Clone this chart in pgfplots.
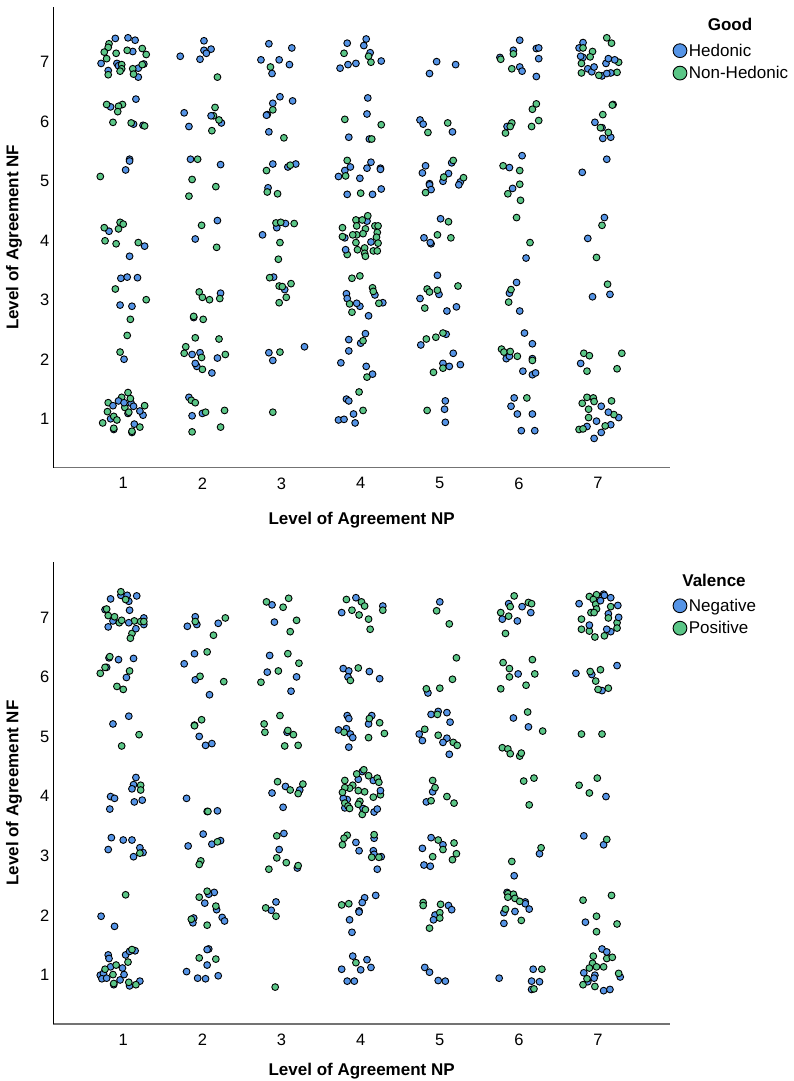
\documentclass[border=0pt]{standalone}
\usepackage{fontspec}
\setmainfont{Liberation Sans}
\usepackage{pgfplots}
\pgfplotsset{compat=1.18}

\definecolor{hblue}{HTML}{5594E6}
\definecolor{hgreen}{HTML}{5BC687}

\newcommand{\lab}{\fontsize{16.5}{19}\selectfont}
\newcommand{\leg}{\fontsize{17}{19}\selectfont}
\newcommand{\labb}{\fontsize{17}{19}\selectfont\bfseries}

\pgfplotsset{
  panel/.style={
    scale only axis, width=616.7pt,
    anchor=south west,
    xmin=0.116, xmax=7.909,
    xtick={1,...,7}, ytick={1,...,7},
    major tick length=0pt,
    axis x line*=bottom, axis y line*=left,
    x axis line style={-, line width=1.3pt, color=black!55},
    y axis line style={-, line width=0.9pt, color=black},
    /pgf/number format/assume math mode=true,
    tick label style={font=\lab},
    xticklabel style={yshift=-6.3pt},
    yticklabel style={xshift=-0.5pt, yshift=-0.8pt},
    every axis y label/.style={at={(axis description cs:0,0.5)},rotate=90,anchor=center,yshift=39.3pt,font=\labb},
    ylabel={Level of Agreement NF},
    xlabel={Level of Agreement NP},
    legend style={draw=none, fill=none, at={(axis description cs:1.005,0.9245)}, anchor=north west,
      font=\leg, inner sep=0pt, outer sep=0pt, row sep=4.6pt, cells={anchor=west},
      /tikz/every even column/.style={column sep=2pt}},
    legend cell align=left,
    legend image code/.code={\draw[##1] plot coordinates {(0.12cm,0cm)};},
  },
  blu/.style={only marks, mark=*, mark size=3.4pt, line width=0.9pt, draw=black, fill=hblue, mark options={draw=black, fill=hblue}, forget plot},
  grn/.style={only marks, mark=*, mark size=3.4pt, line width=0.9pt, draw=black, fill=hgreen, mark options={draw=black, fill=hgreen}, forget plot},
  bigblu/.style={only marks, mark=*, mark size=6.9pt, line width=0.9pt, mark options={draw=black, fill=hblue}},
  biggrn/.style={only marks, mark=*, mark size=6.9pt, line width=0.9pt, mark options={draw=black, fill=hgreen}},
}

\begin{document}
\begin{tikzpicture}
\useasboundingbox (0,0) rectangle (793pt,1081pt);

% Good: Hedonic / Non-Hedonic
\begin{axis}[panel, at={(53.3pt,613.3pt)}, height=460.7pt,
  ymin=0.168, ymax=7.908,
  every axis x label/.style={at={(axis description cs:0.5,0)},anchor=center,yshift=-52.5pt,font=\labb}]
\addplot[blu] coordinates {
 (0.90,7.38) (1.06,7.39) (1.15,7.35) (1.12,7.16) (0.72,6.96) (0.92,6.96) (0.94,6.92) (1.19,6.88) (0.81,6.84) (1.19,6.73) (1.26,6.95)
 (2.02,7.34) (2.11,7.20) (2.02,7.18) (2.05,7.13) (1.97,7.03) (1.72,7.08)
 (2.84,7.29) (3.13,7.22) (2.74,7.02) (2.97,7.02) (3.10,6.94) (2.88,6.79)
 (3.83,7.30) (4.07,7.37) (4.04,7.26) (3.94,6.96) (3.84,6.94) (3.74,6.88) (4.12,7.14) (4.26,7.00)
 (4.96,6.99) (5.20,6.94) (4.87,6.79)
 (6.01,7.35) (5.93,7.18) (6.22,7.21) (6.25,7.22) (6.25,7.04) (5.76,7.06) (6.01,6.90) (6.04,6.83) (6.22,6.74)
 (6.81,7.31) (6.76,7.22) (6.81,7.06) (6.87,6.87) (7.05,6.75)
 (1.16,6.36) (0.84,6.23) (1.25,5.92) (1.13,5.94)
 (1.77,6.13) (1.83,5.90) (2.24,5.96)
 (2.98,6.40) (3.14,6.33) (2.89,6.29) (2.82,6.10) (2.81,6.09) (2.84,5.81)
 (3.85,5.72) (4.09,6.38) (4.08,6.11) (4.11,5.69)
 (4.75,6.01) (4.79,5.94) (5.16,5.81)
 (5.85,5.90)
 (7.19,6.27) (7.05,5.88) (6.96,5.97) (7.06,5.70) (7.16,5.72)
 (1.08,5.35) (1.08,5.32) (1.03,5.17)
 (1.85,5.35) (2.23,5.26)
 (2.89,5.27) (3.08,5.22) (3.18,5.27) (2.83,4.87)
 (3.87,5.22) (3.80,5.16) (3.72,5.06) (4.08,5.20) (3.99,5.03) (3.83,4.76) (4.13,5.30) (4.25,5.20) (4.25,5.18) (4.15,4.76) (4.26,4.85)
 (4.82,5.24) (4.78,5.12) (5.11,5.11) (5.04,4.98) (5.15,5.29) (4.87,4.94) (4.87,4.92) (4.89,4.84) (5.26,4.97) (5.24,4.92)
 (6.04,5.41) (5.88,5.21) (5.92,4.86)
 (7.11,5.35) (6.80,5.13)
 (0.82,4.14) (1.27,3.89) (1.08,3.72)
 (2.19,4.32) (1.91,4.01)
 (2.76,4.08) (2.94,4.20) (3.05,4.27)
 (3.80,4.03) (4.08,4.31)
 (5.01,4.35) (4.80,4.03) (4.89,3.93) (4.88,3.95)
 (6.09,3.69)
 (7.08,4.37) (6.87,4.02)
 (0.97,3.35) (1.05,3.37) (1.18,3.36) (0.96,2.90) (1.11,2.88)
 (2.23,3.10) (1.89,2.69)
 (2.90,3.37) (3.04,3.16)
 (3.82,3.09) (3.83,3.01) (3.99,2.88) (4.10,2.72) (4.18,3.07) (4.28,2.94)
 (4.97,3.40) (4.75,3.01) (4.99,3.08) (5.09,2.80) (5.21,2.87)
 (5.97,3.28) (5.88,3.10) (6.01,2.80)
 (6.93,3.04) (7.15,3.08)
 (1.01,1.99)
 (1.97,2.10) (2.19,2.01) (1.93,1.87) (2.12,1.76)
 (2.84,2.10) (2.89,1.97) (3.29,2.20)
 (4.06,2.42) (3.85,2.32) (3.85,2.13) (4.00,2.26) (3.75,1.93) (4.07,1.87) (4.15,1.74)
 (5.08,2.41) (4.76,2.23) (5.17,2.09) (5.04,1.92) (5.26,1.90)
 (6.07,2.43) (6.17,2.25) (5.84,2.00) (5.88,2.04) (6.17,2.00) (6.05,1.79) (6.17,1.73) (6.21,1.76)
 (6.78,1.92)
 (1.10,1.25) (1.25,1.05) (0.84,0.99) (1.14,0.90) (0.88,0.81) (1.11,0.76) (1.06,1.08) (1.21,1.12)
 (1.83,1.35) (1.87,1.04) (2.00,1.08)
 (3.82,1.32) (3.85,1.29) (3.72,0.97) (3.79,0.98) (3.91,1.07) (3.93,0.92)
 (5.07,1.29) (5.06,1.15) (5.07,0.93)
 (5.94,1.34) (5.90,1.20) (5.98,1.07) (6.17,1.07) (6.03,0.79) (6.20,0.79)
 (7.04,1.20) (7.26,1.01) (6.98,0.95) (6.86,0.86) (7.16,0.89) (7.04,0.76) (6.95,0.66)
};
\addplot[grn] coordinates {
 (0.82,7.29) (0.81,7.23) (0.76,7.15) (0.91,7.13) (1.05,7.18) (1.24,7.21) (1.29,7.11) (0.79,7.04) (0.98,6.94) (0.98,6.87) (0.96,6.83) (1.12,6.87) (1.13,6.78) (0.81,6.77) (1.24,6.94)
 (2.19,6.73) (2.86,6.90)
 (3.79,7.13) (4.10,7.08) (4.13,6.98)
 (5.93,7.12) (5.77,7.03) (5.91,6.87)
 (7.11,7.39) (7.17,7.30) (6.81,7.22) (6.93,7.16) (6.90,7.07) (6.79,6.96) (6.79,6.80) (7.01,6.76) (7.24,6.81) (7.26,6.98)
 (0.79,6.27) (0.99,6.27) (0.94,6.24) (0.93,6.15) (0.87,5.97) (1.10,5.96) (1.27,5.91)
 (2.14,6.08) (2.16,6.22) (2.21,6.01) (2.12,5.83)
 (2.89,6.18) (3.03,5.71)
 (3.80,6.02) (4.26,5.93) (4.14,5.69)
 (4.85,5.80) (5.10,5.96)
 (6.22,6.28) (6.17,6.19) (6.25,6.00) (6.16,5.90) (5.91,5.96) (5.89,5.90) (5.83,5.79)
 (7.18,6.26) (7.06,6.10) (7.03,5.88) (7.13,5.80)
 (0.71,5.06)
 (1.94,5.35) (1.87,5.01) (2.17,4.89) (1.83,4.73)
 (3.11,5.25) (2.81,5.16) (2.82,4.80) (2.95,4.77)
 (3.83,5.33) (3.81,5.07) (4.00,4.78)
 (5.17,5.33) (5.05,5.05) (5.30,5.04) (4.82,4.79)
 (5.80,5.24) (6.01,5.16) (6.01,4.93) (5.86,4.77) (6.02,4.66)
 (0.76,4.20) (0.96,4.29) (1.00,4.26) (0.94,4.18) (0.77,3.98) (0.91,3.93) (1.19,3.95)
 (1.99,4.24) (2.18,3.87)
 (2.93,4.28) (2.99,4.29) (3.16,4.27) (2.98,3.95) (2.96,3.67)
 (3.77,4.20) (3.77,4.05) (3.94,4.33) (3.95,4.23) (4.02,4.33) (4.09,4.40) (4.06,4.18) (4.18,4.23) (4.22,4.23) (4.21,4.12) (4.20,4.04) (4.22,3.94) (4.16,3.81) (4.21,3.81) (4.05,3.86) (3.95,4.08) (3.90,4.08) (3.94,3.95) (3.96,3.83) (4.05,3.77) (4.06,3.72) (3.83,3.75) (4.03,4.10)
 (5.11,4.30) (4.97,4.08) (5.14,4.03)
 (5.97,4.37) (6.14,3.95)
 (7.05,4.24) (6.98,3.70)
 (0.90,3.17) (1.29,2.99) (1.09,2.66) (1.05,2.39)
 (1.96,3.12) (2.00,3.03) (2.09,2.99) (2.22,3.01) (1.89,2.71) (2.01,2.66)
 (2.85,3.36) (2.97,3.22) (3.01,3.21) (3.12,3.26) (3.06,3.03) (2.97,2.94)
 (3.89,3.35) (3.99,3.39) (3.86,2.92) (3.89,2.78) (4.15,3.19) (4.16,3.13) (4.23,2.93)
 (4.84,3.17) (4.87,3.12) (4.97,3.15) (5.23,3.22) (4.81,2.85)
 (5.90,3.16) (5.87,2.95)
 (7.12,3.25)
 (0.96,2.11)
 (1.91,2.35) (2.21,2.33) (1.79,2.20) (1.77,2.09) (1.99,2.02) (2.29,2.07) (2.00,1.82)
 (2.98,2.11)
 (4.03,2.30) (4.08,1.69)
 (5.04,2.43) (4.95,2.36) (4.83,2.33) (5.04,1.84) (4.92,1.77)
 (5.78,2.16) (5.81,2.11) (5.89,2.12) (5.98,2.04) (6.17,1.97)
 (6.82,2.09) (6.89,2.05) (7.30,2.09) (7.24,1.83) (6.86,1.79)
 (1.06,1.43) (0.98,1.35) (1.09,1.33) (0.81,1.26) (1.27,1.21) (1.02,1.18) (1.07,1.10) (0.80,1.11) (0.88,1.03) (0.92,0.97) (0.74,0.92) (0.88,0.83) (1.21,0.85) (1.11,0.78)
 (1.86,1.30) (1.91,1.26) (2.04,1.10) (2.28,1.13) (2.23,0.85) (1.87,0.77)
 (2.89,1.10)
 (3.98,1.44) (4.03,1.13)
 (4.84,1.13)
 (6.10,1.34)
 (6.86,1.35) (6.94,1.34) (6.80,1.25) (6.95,1.28) (7.17,1.29) (6.88,1.15) (7.20,1.06) (6.88,1.01) (7.09,0.87) (6.76,0.81) (6.81,0.82)
};
\addplot[blu] coordinates {
 (7.16,6.80) (7.11,6.79) (6.92,6.82) (6.95,6.90) (7.10,6.96) (7.13,7.04) (7.21,7.02) (6.78,7.08)
 (2.11,6.08) (1.87,2.07) (1.91,1.92) (5.12,1.87) (3.95,2.93)
 (4.13,3.96) (3.81,3.83)
 (0.94,1.29) (1.01,1.26) (0.87,1.21) (1.13,1.20) (7.13,1.10)
};
\addlegendimage{bigblu}\addlegendentry{Hedonic}
\addlegendimage{biggrn}\addlegendentry{Non-Hedonic}
\end{axis}
\node[font=\labb] at (730pt,1057pt) {Good};

% Valence: Negative / Positive
\begin{axis}[panel, at={(53.3pt,57pt)}, height=462pt,
  ymin=0.16, ymax=7.92,
  every axis x label/.style={at={(axis description cs:0.5,0)},anchor=center,yshift=-47pt,font=\labb}]
\addplot[blu] coordinates {
 (0.84,7.30) (0.97,7.36) (1.05,7.36) (1.17,7.35) (1.07,7.26) (1.08,7.11) (0.87,6.93) (0.77,7.12) (1.26,6.98) (1.26,6.87)
 (1.91,7.00) (1.81,6.84) (1.93,6.87) (2.20,6.89)
 (2.88,7.20) (2.91,6.91)
 (3.76,7.07) (3.94,7.32) (4.28,7.18)
 (5.00,7.25)
 (5.87,7.22) (5.98,6.93)
 (6.76,7.22) (7.07,7.38) (7.16,7.32) (7.13,7.05) (7.16,6.75)
 (0.82,6.31) (0.94,6.28) (1.13,6.30) (0.79,6.15) (1.04,5.98)
 (1.90,6.38) (1.77,6.21) (1.91,5.94) (2.09,5.69)
 (2.85,6.35) (2.82,6.07) (3.19,5.99) (3.12,5.75)
 (3.78,6.13) (3.85,6.09) (3.84,5.99) (4.11,6.08) (4.24,5.96)
 (4.85,5.72)
 (5.99,6.04)
 (6.72,6.05) (7.24,6.18) (6.92,6.03) (7.05,5.76)
 (1.07,5.33) (0.87,5.20)
 (1.90,5.18) (1.96,4.99) (2.04,4.84) (2.12,4.87)
 (3.07,5.06)
 (3.83,5.34) (3.85,5.29) (3.72,5.10) (3.82,5.12) (3.87,5.03) (3.90,4.97) (3.85,4.81) (4.14,5.34) (4.10,5.20)
 (4.98,5.41) (4.89,5.36) (5.09,5.39) (5.13,5.23) (4.74,5.03) (4.78,4.92) (5.09,4.96) (5.04,4.89) (5.12,4.69)
 (5.93,5.30) (6.12,5.15)
 (1.16,4.30) (1.13,4.18) (1.11,4.11) (0.84,3.98) (0.89,3.95) (1.14,3.89) (1.24,3.92) (0.83,3.77)
 (1.80,3.95) (2.19,3.74) (2.06,3.73)
 (3.05,4.15) (2.88,4.04) (3.23,4.09) (3.02,3.80)
 (4.02,4.40) (3.97,4.27) (4.16,4.25) (3.83,3.93) (4.03,3.78) (4.17,3.72) (3.78,3.95) (3.80,3.79)
 (4.91,4.06) (4.83,3.89)
 (7.10,3.98)
 (0.85,3.29) (1.00,3.25) (1.11,3.25) (0.81,3.09) (1.21,3.12) (1.25,3.04) (1.13,2.97)
 (2.01,3.35) (1.82,3.15) (2.23,3.24) (2.12,3.18)
 (3.03,3.36) (2.97,3.09) (3.20,2.78)
 (3.94,3.21) (3.98,3.07) (4.17,3.28) (4.16,3.07) (4.17,3.01) (4.21,2.76) (4.26,2.97)
 (4.89,3.29) (5.04,3.17) (4.78,3.11) (4.80,2.83) (4.88,2.81)
 (6.26,3.02) (5.94,2.65)
 (6.82,3.32) (7.07,3.17)
 (0.72,1.97) (0.89,1.80)
 (2.15,2.37) (2.08,2.34) (2.03,2.19) (2.18,2.08) (1.89,1.94) (1.88,1.86) (2.25,1.95) (2.28,1.89)
 (2.93,2.21) (2.87,2.07)
 (4.05,2.28) (4.02,2.20) (3.98,2.06) (3.98,2.04) (3.86,1.91) (3.89,1.70) (4.19,2.32)
 (5.11,2.15) (5.15,2.08) (4.94,1.99) (4.92,1.91)
 (5.85,2.37) (6.08,2.21) (6.08,2.18) (6.13,2.09) (5.81,2.03) (5.95,2.05) (5.81,1.85)
 (6.84,1.87)
 (0.81,1.32) (0.82,1.26) (1.03,1.32) (1.08,1.38) (1.15,1.39) (0.84,1.12) (0.99,1.10) (0.71,0.98) (0.75,1.01) (0.73,0.92) (0.79,0.93) (1.01,0.99) (0.96,0.90) (1.21,0.88) (1.08,0.80) (0.88,0.82)
 (2.08,1.42) (2.06,1.41) (2.06,1.15) (1.80,1.04) (1.94,0.93) (2.04,0.92) (2.20,0.97)
 (3.90,1.30) (3.76,1.08) (4.08,1.24) (4.00,1.07) (3.83,0.88) (3.92,0.88) (4.13,1.11)
 (4.81,1.11) (4.87,1.03) (4.98,0.89) (5.07,0.88)
 (5.75,0.93) (6.18,1.08) (6.16,0.88) (6.26,0.87) (6.16,0.74)
 (6.82,1.02) (6.87,0.87) (7.28,0.95) (7.07,0.72) (7.15,0.74)
};
\addplot[grn] coordinates {
 (0.97,7.42) (1.03,7.29) (0.79,7.13) (0.81,7.02) (0.89,7.00) (0.95,6.90) (0.98,6.94) (1.14,6.93) (1.22,6.92) (1.26,6.92) (1.11,6.72) (1.09,6.64)
 (1.91,6.92) (2.29,6.98) (2.14,6.69)
 (2.81,7.25) (3.09,7.31) (3.02,7.16) (3.19,6.94) (3.11,6.75)
 (3.82,7.29) (4.01,7.25) (4.05,7.18) (3.89,7.11) (3.98,7.03) (4.10,6.96) (4.12,6.79) (4.28,7.11)
 (4.96,7.10) (5.12,6.88)
 (5.94,7.35) (5.89,7.17) (6.12,7.24) (6.16,7.22) (5.77,7.07) (5.87,7.01) (5.83,6.72)
 (6.89,7.34) (6.98,7.37) (6.94,7.29) (6.97,7.21) (7.16,7.17) (6.98,7.13) (6.91,7.07) (6.95,7.07) (7.13,6.98) (7.24,6.90) (7.24,6.81) (6.79,6.96) (6.79,6.79) (6.89,6.76) (6.96,6.66) (7.08,6.68)
 (0.83,6.33) (0.77,6.15) (0.71,6.05) (1.08,6.09) (0.92,5.83) (1.00,5.78)
 (2.06,6.41) (1.97,6.00) (2.27,5.91)
 (3.08,6.38) (3.22,6.22) (2.96,6.09) (2.74,5.90)
 (3.97,6.14) (3.87,5.93)
 (5.21,6.31) (5.16,5.95) (4.83,5.79) (5.00,5.80)
 (5.80,6.23) (6.17,6.28) (5.88,6.13) (5.88,5.99) (6.20,6.04) (6.09,5.85) (5.77,5.79)
 (6.90,6.08) (7.03,6.11) (6.97,5.92) (7.00,5.78) (7.13,5.80)
 (1.20,5.02) (0.98,4.83)
 (1.99,5.27) (1.90,5.17)
 (2.98,5.34) (2.78,5.20) (2.79,5.06) (3.08,5.09) (3.15,5.02) (3.04,4.83) (3.21,4.84)
 (3.79,5.06) (4.11,5.29) (4.24,5.22) (4.30,5.04) (4.10,4.97)
 (4.97,5.36) (4.81,5.11) (4.98,5.01) (5.17,4.89) (5.22,4.84)
 (6.11,5.40) (6.30,5.08) (5.79,4.80) (5.86,4.78) (5.89,4.70) (6.01,4.66) (6.03,4.71)
 (6.79,5.03) (7.05,5.03)
 (1.22,4.17) (1.22,4.09)
 (2.07,3.73)
 (2.95,4.23) (3.11,4.09) (3.27,4.19) (3.21,4.03)
 (4.04,4.43) (3.95,4.36) (4.10,4.33) (4.21,4.29) (4.23,4.22) (3.80,4.25) (3.90,4.17) (3.86,4.12) (3.80,4.13) (3.77,4.05) (3.97,4.08) (4.05,4.06) (4.16,3.97) (4.25,4.01) (3.80,3.87) (3.84,3.82) (3.86,3.78) (3.99,3.90) (3.97,3.85) (4.02,3.68) (4.06,3.76)
 (4.91,4.25) (4.94,4.13) (4.89,3.91) (5.09,3.98) (5.18,3.87)
 (6.06,4.24) (6.19,4.29) (6.13,3.84)
 (6.99,4.29) (6.76,4.17) (6.89,4.04)
 (1.21,3.03)
 (2.19,3.22) (1.98,2.90) (1.96,2.84)
 (2.94,3.32) (2.94,2.95) (3.06,2.87) (3.21,2.82) (2.84,2.76)
 (3.83,3.33) (3.79,3.28) (3.77,3.17) (4.17,3.34) (4.14,2.96) (4.23,2.96)
 (4.98,3.25) (5.04,3.09) (5.18,3.20) (4.91,2.97) (5.21,3.02) (5.16,2.92)
 (6.28,3.12) (5.91,2.89)
 (7.11,3.26)
 (1.03,2.33)
 (2.06,2.39) (1.96,2.29) (2.17,2.14) (1.86,1.92) (2.06,1.82)
 (2.80,2.11) (2.93,1.97)
 (3.76,2.16) (3.85,2.18)
 (4.79,2.20) (4.79,2.15) (5.01,2.17) (5.00,2.03) (5.00,1.94) (4.87,1.77)
 (5.86,2.35) (5.93,2.34) (5.86,2.29) (5.95,2.27) (6.01,2.22) (5.83,2.09) (6.03,1.90)
 (6.81,2.24) (7.17,2.32) (6.98,1.97) (7.24,1.84) (6.98,1.71)
 (1.11,1.41) (1.06,1.20) (0.91,1.15) (0.77,1.08) (0.87,0.99) (0.88,0.84) (1.07,0.86) (1.16,0.82)
 (1.96,1.27) (2.17,1.25)
 (2.92,0.78)
 (3.94,1.19)
 (6.29,1.08) (6.19,0.75)
 (6.94,1.30) (6.93,1.18) (7.11,1.26) (7.18,1.28) (6.89,1.10) (6.98,1.12) (7.07,1.12) (6.86,0.92) (6.81,0.82) (6.96,0.79) (7.26,1.01)
};
\addplot[blu] coordinates {
 (1.07,6.90) (1.16,6.80) (0.81,6.83)
 (7.08,7.36) (7.03,7.27) (7.25,7.19) (7.26,6.99) (7.11,6.79) (6.89,6.86)
 (6.04,7.17) (6.15,7.07) (5.79,6.96)
 (4.25,4.08) (4.21,3.77)
 (6.96,0.98) (6.95,0.93) (7.05,1.42) (7.11,1.37)
};
\addlegendimage{bigblu}\addlegendentry{Negative}
\addlegendimage{biggrn}\addlegendentry{Positive}
\end{axis}
\node[font=\labb] at (714pt,501pt) {Valence};
\end{tikzpicture}
\end{document}
